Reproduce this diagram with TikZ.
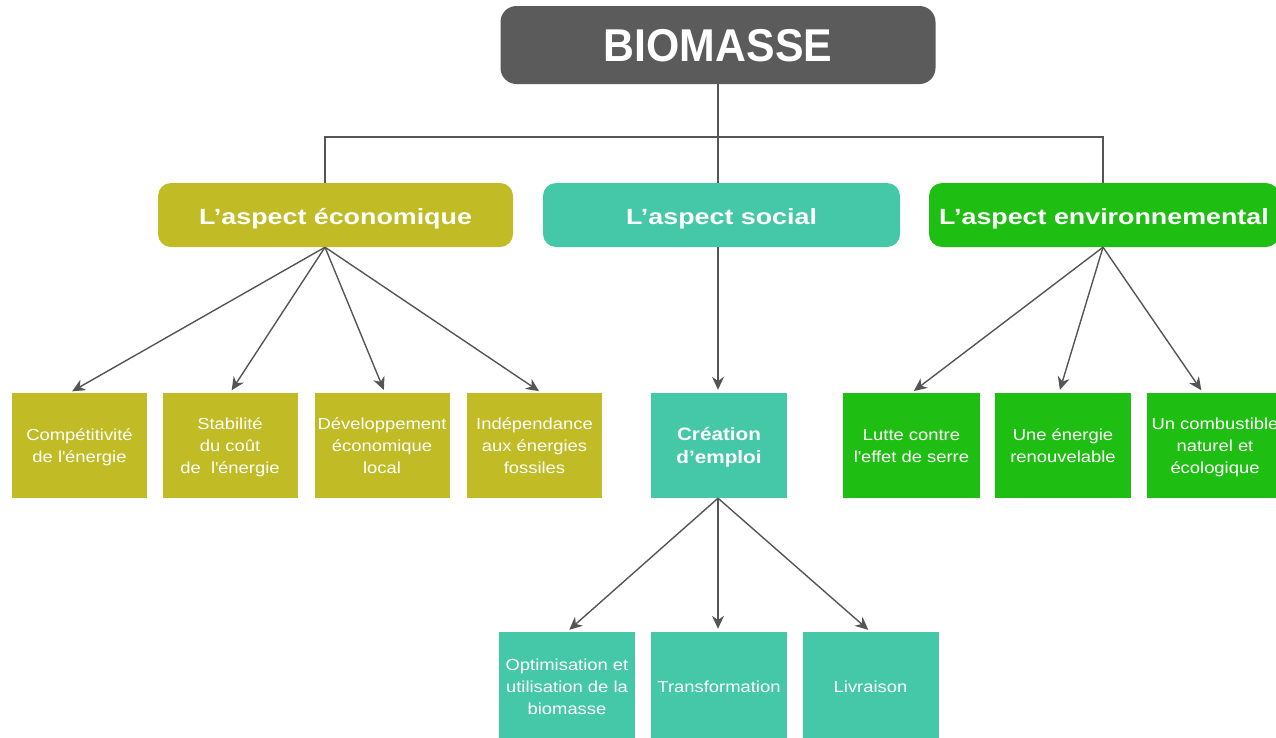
\documentclass[tikz,border=0pt]{standalone}
\usepackage{fontspec}
\setmainfont{Liberation Sans}
\newfontfamily\widefont[FakeStretch=1.15]{Liberation Sans}
\newfontfamily\widerfont[FakeStretch=1.22]{Liberation Sans}
\newfontfamily\narrowfont[FakeStretch=0.93]{Liberation Sans}
\usetikzlibrary{arrows.meta,positioning}

\definecolor{biogray}{HTML}{5B5B5B}
\definecolor{ecocol}{HTML}{C1BB26}
\definecolor{soccol}{HTML}{45C8A8}
\definecolor{envcol}{HTML}{1FBE12}
\definecolor{linecol}{HTML}{555555}

\tikzset{
  titlebox/.style={fill=biogray, rounded corners=16pt, minimum width=435pt, minimum height=78pt,
    inner sep=0pt, text=white, text height=33pt, text depth=-7pt,
    font=\narrowfont\fontsize{46}{52}\selectfont\bfseries},
  aspectbox/.style={rounded corners=13pt, minimum height=64pt, inner sep=0pt, text=white,
    text height=18pt, text depth=0pt, font=\widerfont\fontsize{22}{26}\selectfont\bfseries},
  leafbox/.style={minimum width=135pt, minimum height=105pt, inner sep=0pt, text=white,
    align=center, text depth=-5pt, font=\widefont\fontsize{16}{22}\selectfont},
  link/.style={draw=linecol, line width=1.4pt},
  arrowlink/.style={link, -{Stealth[length=13pt,width=12pt]}, shorten >=3pt},
}

\begin{document}
\begin{tikzpicture}[x=1pt, y=-1pt]
  \useasboundingbox (0,0) rectangle (1276,737);

  % Title
  \node[titlebox] (bio) at (718,45) {BIOMASSE};

  % The three aspects
  \node[aspectbox, fill=ecocol, minimum width=355pt] (eco) at (335.5,215) {L’aspect économique};
  \node[aspectbox, fill=soccol, minimum width=357pt] (soc) at (721.5,215) {L’aspect social};
  \node[aspectbox, fill=envcol, minimum width=350pt] (env) at (1104,215) {L’aspect environnemental};

  % Tree from the title to the aspects
  \coordinate (bus) at (718,137);
  \draw[link] (bio.south) -- (bus);
  \draw[link] ([xshift=-10.5pt]eco.north) |- (bus) -| ([xshift=-1pt]env.north);
  \draw[link] (bus) -- ([xshift=-3.5pt]soc.north);

  % Economic leaves
  \node[leafbox, fill=ecocol] (eco1) at (79.5,445.5) {Compétitivité\\de l\textquotesingle énergie};
  \node[leafbox, fill=ecocol] (eco2) at (230,445.5) {Stabilité\\du coût\\de~ l\textquotesingle énergie};
  \node[leafbox, fill=ecocol] (eco3) at (382,445.5) {Développement\\économique\\local};
  \node[leafbox, fill=ecocol] (eco4) at (534.5,445.5) {Indépendance\\aux énergies\\fossiles};

  % Social leaf
  \node[leafbox, fill=soccol, minimum width=136pt, font=\widefont\fontsize{18}{23}\selectfont\bfseries]
    (cre) at (719,445.5) {Création\\d’emploi};

  % Environmental leaves
  \node[leafbox, fill=envcol, minimum width=137pt] (env1) at (911.5,445.5) {Lutte contre\\l\textquotesingle effet de serre};
  \node[leafbox, fill=envcol, minimum width=136pt] (env2) at (1063,445.5) {Une énergie\\renouvelable};
  \node[leafbox, fill=envcol, minimum width=136pt] (env3) at (1215,445.5) {Un combustible\\naturel et\\écologique};

  % Jobs leaves
  \node[leafbox, fill=soccol, minimum width=136pt, minimum height=110pt] (job1) at (567,687) {Optimisation et\\utilisation de la\\biomasse};
  \node[leafbox, fill=soccol, minimum width=136pt, minimum height=110pt] (job2) at (719,687) {Transformation};
  \node[leafbox, fill=soccol, minimum width=136pt, minimum height=110pt] (job3) at (870.5,687) {Livraison};

  % Arrows
  \coordinate (ecoOut) at ([xshift=-10.5pt]eco.south);
  \coordinate (envOut) at ([xshift=-1pt]env.south);
  \draw[arrowlink] (ecoOut) -- ([xshift=-10pt]eco1.north);
  \draw[arrowlink] (ecoOut) -- (eco2.north);
  \draw[arrowlink] (ecoOut) -- ([xshift=3pt]eco3.north);
  \draw[arrowlink] (ecoOut) -- ([xshift=7pt]eco4.north);
  \draw[arrowlink] ([xshift=-3.5pt]soc.south) -- ([xshift=-1pt]cre.north);
  \draw[arrowlink] (envOut) -- (env1.north);
  \draw[arrowlink] (envOut) -- ([xshift=-4pt]env2.north);
  \draw[arrowlink] (envOut) -- ([xshift=-12pt]env3.north);
  \draw[arrowlink] ([xshift=-1pt]cre.south) -- (job1.north);
  \draw[arrowlink] ([xshift=-1pt]cre.south) -- ([xshift=-1pt]job2.north);
  \draw[arrowlink] ([xshift=-1pt]cre.south) -- (job3.north);
\end{tikzpicture}
\end{document}
